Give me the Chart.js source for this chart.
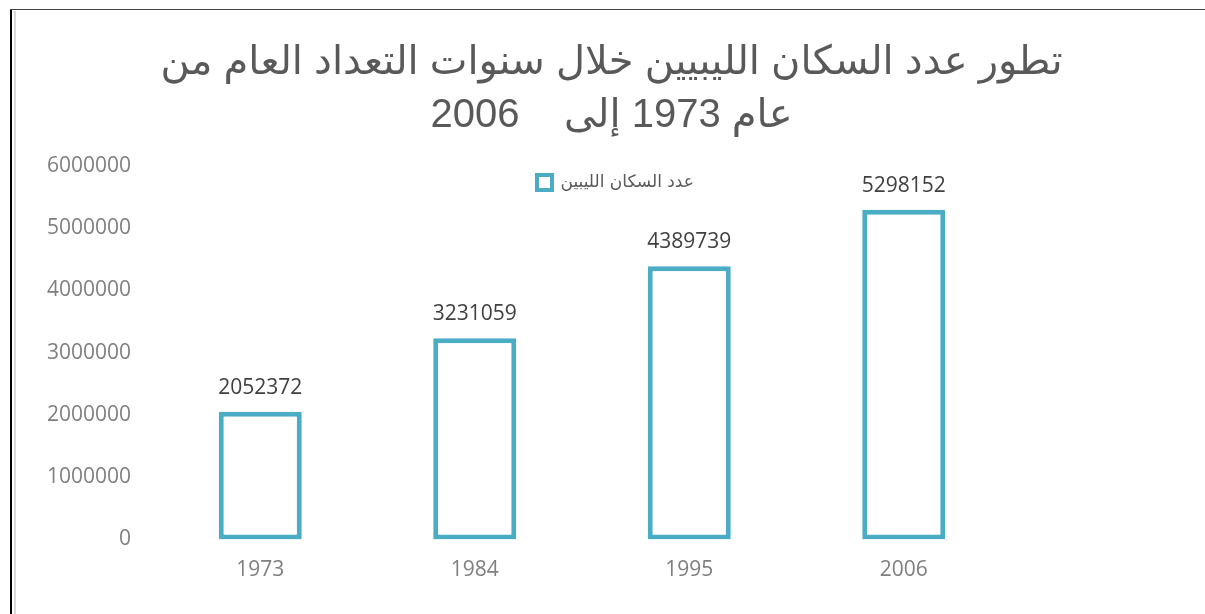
<!DOCTYPE html>
<html>
<head>
<meta charset="utf-8">
<script src="https://cdn.jsdelivr.net/npm/chart.js@4.4.1/dist/chart.umd.min.js"></script>
<style>
  html, body { margin: 0; padding: 0; background: #ffffff; }
  #wrap { position: relative; width: 1205px; height: 614px; overflow: hidden; }
  #c { position: absolute; left: 0; top: 0; }
  #frameL { position: absolute; left: 10px; top: 9px; width: 2px; height: 605px; background: #000; }
  #frameL2 { position: absolute; left: 14px; top: 11px; width: 2px; height: 603px; background: #d9d9d9; }
  #frameT { position: absolute; left: 10px; top: 9px; width: 1195px; height: 1px; background: #444; }
</style>
</head>
<body>
<div id="wrap">
  <canvas id="c" width="1205" height="614"></canvas>
  <div id="frameL"></div>
  <div id="frameL2"></div>
  <div id="frameT"></div>
</div>
<script>
const titleLines = ["تطور عدد السكان الليبيين خلال سنوات التعداد العام من", "عام 1973 إلى    2006"];
const seriesName = "عدد السكان الليبين";
const categories = ["1973", "1984", "1995", "2006"];
const populationValues = [2052372, 3231059, 4389739, 5298152];
const yTickMax = 6000000;
const yTickStep = 1000000;

const teal = "#4BACC6";

const valueLabels = {
  id: "valueLabels",
  afterDatasetsDraw(chart) {
    const ctx = chart.ctx;
    const meta = chart.getDatasetMeta(0);
    ctx.save();
    ctx.font = "21px 'Open Sans'";
    ctx.fillStyle = "#404040";
    ctx.textAlign = "center";
    ctx.textBaseline = "middle";
    meta.data.forEach((bar, i) => {
      ctx.fillText(String(chart.data.datasets[0].data[i]), bar.x, bar.y - 24);
    });
    ctx.restore();
  }
};

const placeBlocks = {
  id: "placeBlocks",
  afterLayout(chart) {
    const lg = chart.legend;
    if (lg) {
      const h = lg.height;
      lg.left = 527;
      lg.right = 1205;
      lg.width = lg.right - lg.left;
      lg.top = 164;
      lg.bottom = lg.top + h;
    }
    const tb = chart.titleBlock;
    if (tb) {
      tb.left += 100;
      tb.right += 100;
    }
  }
};

new Chart(document.getElementById("c"), {
  type: "bar",
  data: {
    labels: categories,
    datasets: [{
      label: seriesName,
      data: populationValues,
      backgroundColor: "#ffffff",
      borderColor: teal,
      borderWidth: 5,
      borderSkipped: false,
      categoryPercentage: 1.0,
      barPercentage: 0.387
    }]
  },
  options: {
    responsive: false,
    animation: false,
    devicePixelRatio: 1,
    layout: { padding: { left: 12, right: 194, top: 8, bottom: 0 } },
    plugins: {
      title: {
        display: true,
        text: titleLines,
        color: "#595959",
        font: { family: "'Liberation Sans', 'DejaVu Sans'", size: 40, weight: "normal", lineHeight: 1.325 },
        padding: { top: 28, bottom: 24 }
      },
      legend: {
        display: true,
        position: "chartArea",
        align: "start",
        labels: {
          color: "#595959",
          font: { family: "'DejaVu Sans'", size: 17 },
          boxWidth: 15,
          boxHeight: 15,
          padding: 10,
          generateLabels(chart) {
            const ds = chart.data.datasets[0];
            return [{
              text: ds.label,
              fillStyle: "#ffffff",
              strokeStyle: teal,
              lineWidth: 4,
              fontColor: "#595959",
              hidden: false,
              datasetIndex: 0
            }];
          }
        }
      },
      tooltip: { enabled: false }
    },
    scales: {
      x: {
        grid: { display: false, drawTicks: false },
        border: { display: false },
        ticks: { color: "#7f7f7f", font: { family: "'Open Sans'", size: 21 }, padding: 17.5 },
        afterFit(scale) { scale.height = 74.5; }
      },
      y: {
        min: 0,
        max: yTickMax,
        grid: { display: false, drawTicks: false },
        border: { display: false },
        ticks: {
          stepSize: yTickStep,
          color: "#7f7f7f",
          font: { family: "'Open Sans'", size: 21 },
          padding: 22,
          callback: (v) => String(v)
        },
        afterFit(scale) { scale.width = 141; }
      }
    }
  },
  plugins: [valueLabels, placeBlocks]
});
</script>
</body>
</html>
